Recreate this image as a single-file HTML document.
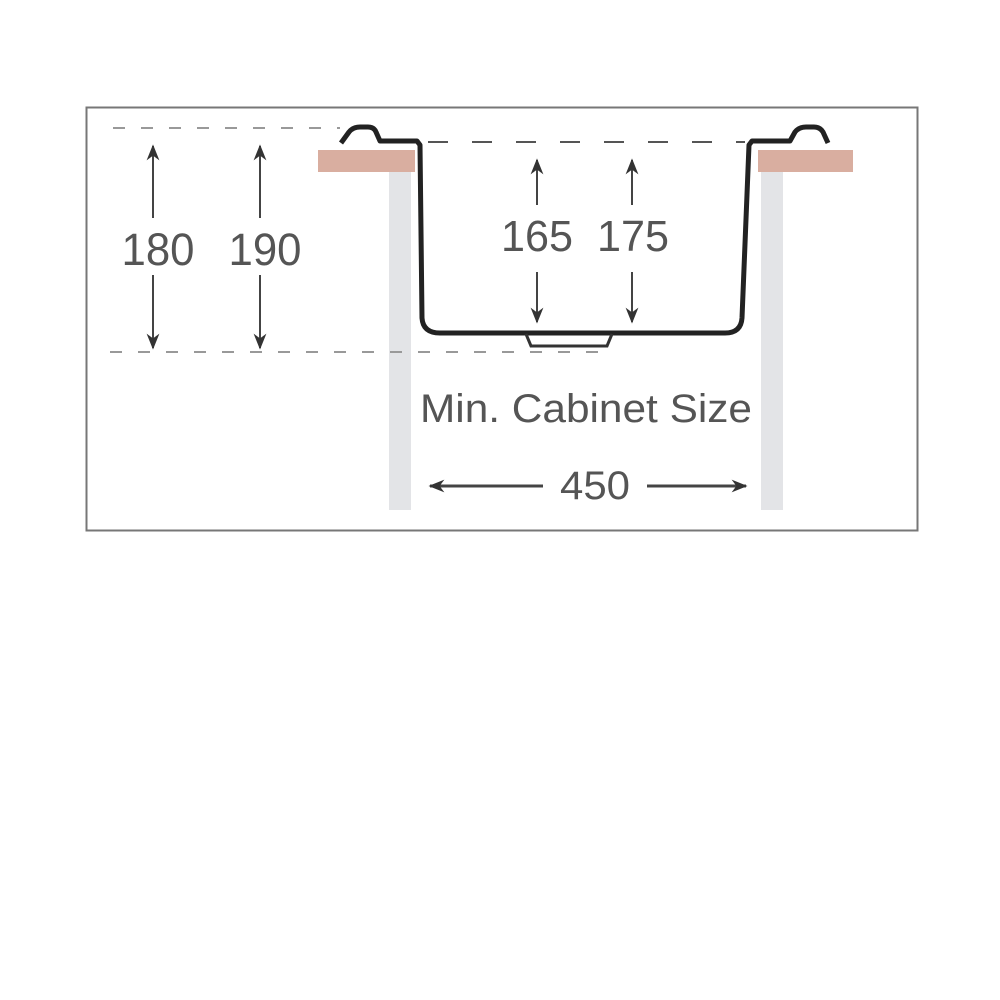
<!DOCTYPE html>
<html><head><meta charset="utf-8"><style>
html,body{margin:0;padding:0;background:#fff;width:1000px;height:1000px;overflow:hidden}
text{font-family:"Liberation Sans",sans-serif;fill:#555}
</style></head><body>
<svg width="1000" height="1000" viewBox="0 0 1000 1000" xmlns="http://www.w3.org/2000/svg">
<defs>
<marker id="ah2" viewBox="0 0 10 10" refX="9" refY="5" markerWidth="16" markerHeight="16" orient="auto" markerUnits="userSpaceOnUse">
<path d="M0,1 L10,5 L0,9 L3,5 Z" fill="#333"/>
</marker>
</defs>
<rect x="86.5" y="107.5" width="831" height="423" fill="#fff" stroke="#777" stroke-width="2"/>
<rect x="389" y="170" width="22" height="340" fill="#e3e4e7"/>
<rect x="761" y="170" width="22" height="340" fill="#e3e4e7"/>
<rect x="318" y="150" width="97" height="22" fill="#d9aea0"/>
<rect x="758" y="150" width="95" height="22" fill="#d9aea0"/>
<line x1="113" y1="128" x2="340" y2="128" stroke="#999" stroke-width="2" stroke-dasharray="12,16"/>
<line x1="428" y1="142" x2="745" y2="142" stroke="#555" stroke-width="2" stroke-dasharray="20,24"/>
<line x1="110" y1="352" x2="600" y2="352" stroke="#999" stroke-width="2" stroke-dasharray="12,16"/>
<path d="M341,143 L349,132 Q353,127 360,127 L368,127 Q374,127 376,132 L380,141 L417,141 L420,145 L422,318 Q423,333 440,333 L725,333 Q741,333 742,318 L749,145 L752,141 L790,141 L795,132 Q799,127 806,127 L814,127 Q820,127 823,132 L828,143" fill="none" stroke="#222" stroke-width="5" stroke-linejoin="round"/>
<path d="M526,334 L531,346 L607,346 L612,334" fill="none" stroke="#333" stroke-width="3"/>
<g stroke="#444" stroke-width="2" fill="none">
<line x1="153" y1="218" x2="153" y2="146" marker-end="url(#ah2)"/>
<line x1="153" y1="275" x2="153" y2="348" marker-end="url(#ah2)"/>
<line x1="260" y1="218" x2="260" y2="146" marker-end="url(#ah2)"/>
<line x1="260" y1="275" x2="260" y2="348" marker-end="url(#ah2)"/>
<line x1="537" y1="205" x2="537" y2="160" marker-end="url(#ah2)"/>
<line x1="537" y1="272" x2="537" y2="322" marker-end="url(#ah2)"/>
<line x1="632" y1="205" x2="632" y2="160" marker-end="url(#ah2)"/>
<line x1="632" y1="272" x2="632" y2="322" marker-end="url(#ah2)"/>
<line x1="543" y1="486" x2="430" y2="486" stroke-width="3" marker-end="url(#ah2)"/>
<line x1="647" y1="486" x2="746" y2="486" stroke-width="3" marker-end="url(#ah2)"/>
</g>
<text x="158" y="265" font-size="45" text-anchor="middle" textLength="73" lengthAdjust="spacingAndGlyphs">180</text>
<text x="265" y="265" font-size="45" text-anchor="middle" textLength="73" lengthAdjust="spacingAndGlyphs">190</text>
<text x="537" y="251" font-size="44" text-anchor="middle" textLength="72" lengthAdjust="spacingAndGlyphs">165</text>
<text x="633" y="251" font-size="44" text-anchor="middle" textLength="72" lengthAdjust="spacingAndGlyphs">175</text>
<text x="420" y="422" font-size="40" textLength="332" lengthAdjust="spacingAndGlyphs">Min. Cabinet Size</text>
<text x="595" y="499" font-size="40" text-anchor="middle" textLength="70" lengthAdjust="spacingAndGlyphs">450</text>
</svg>
</body></html>
